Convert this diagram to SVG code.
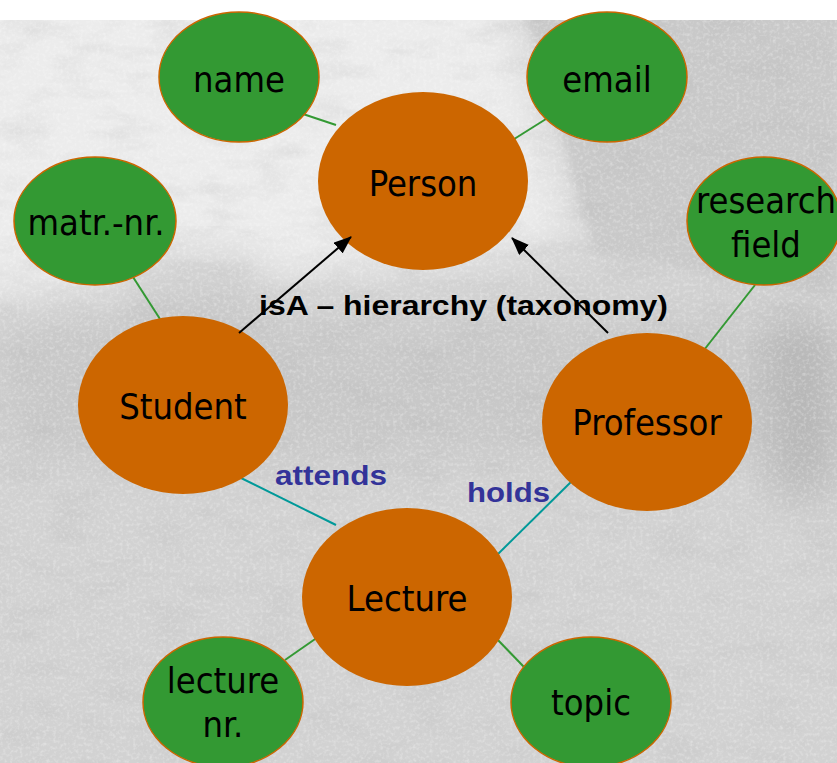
<svg xmlns="http://www.w3.org/2000/svg" width="837" height="763" viewBox="0 0 837 763">
  <defs>
    <style>
      .attr { fill: #339933; stroke: #cc6600; stroke-width: 1.5; }
      .ent { fill: #cc6600; }
      .lbl { font-family: "DejaVu Sans Condensed", "DejaVu Sans", Tahoma, sans-serif; font-stretch: condensed; font-size: 36px; fill: #000; text-anchor: middle; }
      .attrline { stroke: #339933; stroke-width: 2; fill: none; }
      .rel { stroke: #009999; stroke-width: 2; fill: none; }
      .isa { stroke: #000; stroke-width: 2; fill: none; marker-end: url(#arrow); }
      .rellbl { font-family: "Liberation Sans", Arial, sans-serif; font-weight: bold; font-size: 28px; fill: #333399; }
      .isalbl { font-family: "Liberation Sans", Arial, sans-serif; font-weight: bold; font-size: 27px; fill: #000; }
    </style>
    <marker id="arrow" viewBox="0 0 18 14" refX="17" refY="7" markerWidth="18" markerHeight="14" markerUnits="userSpaceOnUse" orient="auto">
      <path d="M0,0 L18,7 L0,14 z" fill="#000"/>
    </marker>
    <clipPath id="photoClip">
      <rect x="0" y="20" width="837" height="743"/>
    </clipPath>
    <filter id="speckle" x="0" y="0" width="100%" height="100%">
      <feTurbulence type="fractalNoise" baseFrequency="0.3" numOctaves="2" seed="11" result="n"/>
      <feColorMatrix in="n" type="matrix" values="0 0 0 0 1  0 0 0 0 1  0 0 0 0 1  2.4 0 0 0 -1.1"/>
    </filter>
    <filter id="mottle" x="0" y="0" width="100%" height="100%">
      <feTurbulence type="fractalNoise" baseFrequency="0.02 0.05" numOctaves="3" seed="3" result="m"/>
      <feColorMatrix in="m" type="matrix" values="0 0 0 0 0.45  0 0 0 0 0.45  0 0 0 0 0.45  1.4 0 0 0 -0.65"/>
    </filter>
    <filter id="soft" x="-30%" y="-30%" width="160%" height="160%">
      <feGaussianBlur stdDeviation="22"/>
    </filter>
    <filter id="edge" x="-20%" y="-20%" width="140%" height="140%">
      <feGaussianBlur stdDeviation="5"/>
    </filter>
  </defs>

  <!-- backdrop: white strip above a grainy grey photograph -->
  <rect x="0" y="0" width="837" height="763" fill="#ffffff"/>
  <g id="backdrop" clip-path="url(#photoClip)">
    <rect x="0" y="20" width="837" height="743" fill="#d2d2d2"/>
    <!-- bright sky on the upper left -->
    <path d="M-60,-40 L500,-40 C525,60 550,150 580,240 C420,270 200,290 -60,300 z" fill="#ececec" filter="url(#soft)"/>
    <!-- roof edge on the right -->
    <path d="M520,-10 C545,70 565,150 595,250 L837,300 L837,-10 z" fill="#c9c9c9" filter="url(#edge)"/>
    <!-- facade with darker openings -->
    <rect x="0" y="320" width="837" height="140" fill="#bdbdbd" opacity="0.45" filter="url(#soft)"/>
    <rect x="120" y="250" width="140" height="80" fill="#c0c0c0" opacity="0.5" filter="url(#soft)"/>
    <rect x="770" y="320" width="67" height="180" fill="#a8a8a8" opacity="0.55" filter="url(#soft)"/>
    <rect x="0" y="20" width="837" height="743" filter="url(#mottle)" opacity="0.35"/>
    <rect x="0" y="20" width="837" height="743" filter="url(#speckle)" opacity="0.3"/>
  </g>

  <!-- connectors -->
  <g id="connectors">
    <line class="attrline" x1="303" y1="114" x2="336" y2="125"/>
    <line class="attrline" x1="546" y1="119" x2="511" y2="141"/>
    <line class="attrline" x1="133" y1="277" x2="160" y2="319"/>
    <line class="attrline" x1="755" y1="285" x2="704" y2="350"/>
    <line class="attrline" x1="318" y1="637" x2="285" y2="660"/>
    <line class="attrline" x1="495" y1="637" x2="524" y2="667"/>
    <line class="rel" x1="239" y1="477" x2="336" y2="525"/>
    <line class="rel" x1="576" y1="477" x2="495" y2="557"/>
  </g>

  <!-- nodes -->
  <g id="name">
    <ellipse class="attr" cx="239" cy="77" rx="80" ry="65"/>
    <text class="lbl" x="239" y="92">name</text>
  </g>
  <g id="email">
    <ellipse class="attr" cx="607" cy="77" rx="80" ry="65"/>
    <text class="lbl" x="607" y="92">email</text>
  </g>
  <g id="person">
    <ellipse class="ent" cx="423" cy="181" rx="105" ry="89"/>
    <text class="lbl" x="423" y="196">Person</text>
  </g>
  <g id="matr-nr">
    <ellipse class="attr" cx="95" cy="221" rx="81" ry="64"/>
    <text class="lbl" x="96" y="235">matr.-nr.</text>
  </g>
  <g id="research-field">
    <ellipse class="attr" cx="764" cy="221" rx="77" ry="64"/>
    <text class="lbl" x="766" y="213">research</text>
    <text class="lbl" x="766" y="257">field</text>
  </g>
  <g id="student">
    <ellipse class="ent" cx="183" cy="405" rx="105" ry="89"/>
    <text class="lbl" x="183" y="419">Student</text>
  </g>
  <g id="professor">
    <ellipse class="ent" cx="647" cy="422" rx="105" ry="89"/>
    <text class="lbl" x="647" y="435">Professor</text>
  </g>
  <g id="lecture">
    <ellipse class="ent" cx="407" cy="597" rx="105" ry="89"/>
    <text class="lbl" x="407" y="611">Lecture</text>
  </g>
  <g id="lecture-nr">
    <ellipse class="attr" cx="223" cy="702" rx="80" ry="65"/>
    <text class="lbl" x="223" y="693">lecture</text>
    <text class="lbl" x="223" y="737">nr.</text>
  </g>
  <g id="topic">
    <ellipse class="attr" cx="591" cy="702" rx="80" ry="65"/>
    <text class="lbl" x="591" y="715">topic</text>
  </g>

  <!-- relationship labels -->
  <text class="rellbl" x="275" y="485" textLength="112" lengthAdjust="spacingAndGlyphs">attends</text>
  <text class="rellbl" x="467" y="502" textLength="83" lengthAdjust="spacingAndGlyphs">holds</text>
  <text class="isalbl" x="259" y="315" textLength="409" lengthAdjust="spacingAndGlyphs">isA – hierarchy (taxonomy)</text>

  <!-- isA arrows -->
  <g id="isa-arrows">
    <line class="isa" x1="239" y1="333" x2="351" y2="237"/>
    <line class="isa" x1="608" y1="333" x2="512" y2="238"/>
  </g>
</svg>
